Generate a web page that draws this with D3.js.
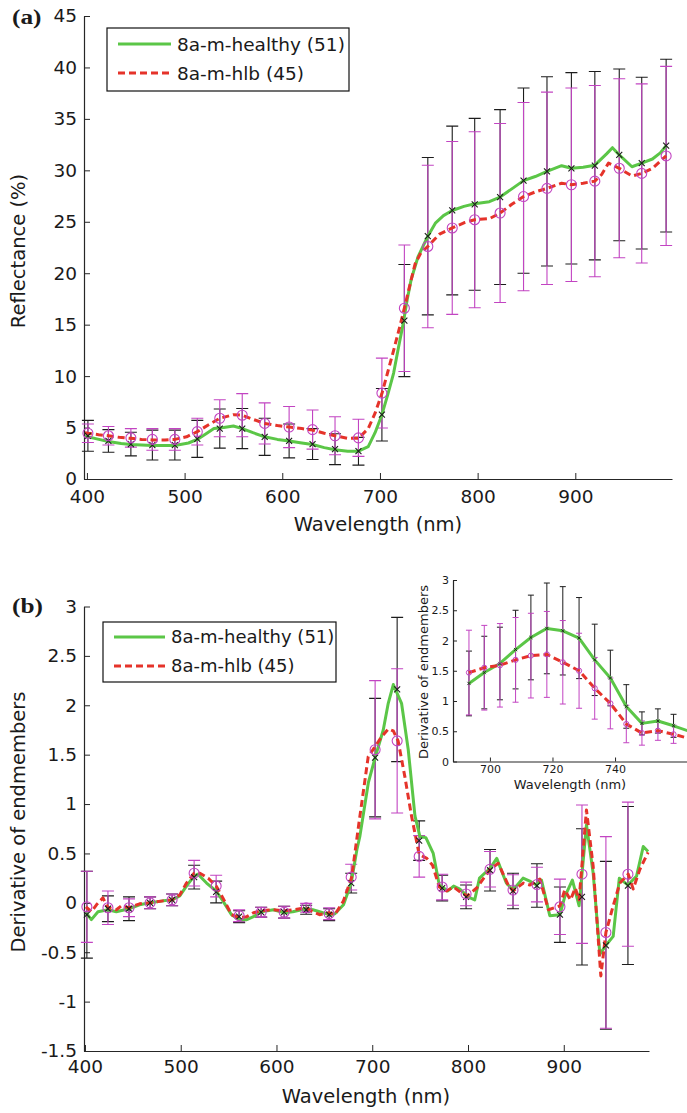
<!DOCTYPE html>
<html>
<head>
<meta charset="utf-8">
<script src="https://cdn.jsdelivr.net/npm/d3@7"></script>
<style>
  body { margin: 0; background: #fff; }
  svg text { font-family: "DejaVu Sans", sans-serif; fill: #1a1a1a; }
</style>
</head>
<body>
<svg id="fig" width="687" height="1113"></svg>
<script>
// ---------- Panel (a): mean reflectance with +/- 1 SD ----------
const seriesNames = ["8a-m-healthy (51)", "8a-m-hlb (45)"];

const markerWlA = [401, 422, 445, 467, 490, 513, 536, 559, 582, 607, 631, 654, 678, 702, 725, 749, 774, 797, 823, 847, 871, 896, 920, 945, 968, 993];
const healthyMeanA = [4.2, 3.7, 3.4, 3.3, 3.3, 3.9, 4.9, 4.9, 4.1, 3.7, 3.4, 2.9, 2.7, 6.25, 15.4, 23.6, 26.1, 26.7, 27.4, 29.0, 29.9, 30.2, 30.45, 31.5, 30.7, 32.4];
const healthySdA = [1.5, 1.1, 1.15, 1.45, 1.45, 1.8, 1.9, 1.95, 1.8, 1.65, 1.5, 1.5, 1.35, 2.55, 5.45, 7.65, 8.2, 8.35, 8.5, 9.0, 9.2, 9.3, 9.15, 8.35, 8.35, 8.4];
const hlbMeanA = [4.45, 4.2, 4.0, 3.85, 3.85, 4.6, 5.9, 6.2, 5.4, 5.05, 4.8, 4.2, 4.0, 8.35, 16.6, 22.6, 24.4, 25.2, 25.85, 27.45, 28.25, 28.6, 28.95, 30.2, 29.7, 31.4];
const hlbSdA = [0.9, 0.9, 0.9, 1.05, 1.05, 1.3, 1.8, 2.1, 2.0, 2.0, 1.9, 1.85, 1.8, 3.4, 6.15, 7.9, 8.4, 8.55, 8.7, 9.15, 9.35, 9.4, 9.3, 8.7, 8.7, 8.7];

const lineWlHealthyA = [398, 401, 410, 422, 435, 445, 467, 490, 504, 513, 522, 530, 540, 550, 559, 570, 582, 595, 607, 620, 631, 643, 654, 667, 678, 688, 695, 702, 708, 714, 719, 724, 728, 732, 739, 749, 757, 765, 774, 786, 797, 812, 823, 835, 847, 859, 871, 886, 896, 908, 920, 932, 938, 945, 958, 968, 979, 987, 993];
const lineHealthyA = [4.15, 4.1, 3.9, 3.65, 3.45, 3.35, 3.25, 3.25, 3.5, 3.85, 4.4, 4.9, 5.0, 5.15, 4.9, 4.5, 4.1, 3.85, 3.7, 3.5, 3.35, 3.05, 2.85, 2.7, 2.7, 3.15, 4.5, 6.25, 8.2, 10.3, 12.8, 15.2, 17.5, 19.4, 21.6, 23.6, 24.9, 25.6, 26.1, 26.5, 26.75, 26.95, 27.4, 28.2, 29.0, 29.4, 29.9, 30.45, 30.2, 30.3, 30.5, 31.6, 32.2, 31.5, 30.35, 30.7, 31.1, 31.7, 32.4];
const lineWlHlbA = [398, 401, 412, 422, 433, 445, 456, 467, 480, 490, 502, 513, 525, 536, 550, 559, 570, 582, 595, 607, 620, 631, 643, 654, 667, 678, 688, 695, 702, 708, 714, 720, 725, 730, 736, 742, 749, 761, 774, 786, 797, 812, 823, 835, 847, 859, 871, 886, 896, 908, 920, 927, 934, 945, 958, 968, 979, 993];
const lineHlbA = [4.5, 4.45, 4.3, 4.2, 4.05, 3.95, 3.85, 3.8, 3.8, 3.85, 4.1, 4.6, 5.3, 5.9, 6.25, 6.2, 5.8, 5.4, 5.2, 5.05, 4.9, 4.75, 4.45, 4.2, 3.95, 3.95, 4.9, 6.4, 8.3, 10.4, 12.5, 14.7, 16.6, 18.6, 20.9, 22.0, 22.6, 23.8, 24.4, 24.9, 25.2, 25.3, 25.85, 26.7, 27.45, 27.9, 28.25, 28.75, 28.6, 28.75, 28.95, 29.6, 30.7, 30.2, 29.45, 29.7, 30.2, 31.4];

const xTicksA = [400, 500, 600, 700, 800, 900];
const yTicksA = [0, 5, 10, 15, 20, 25, 30, 35, 40, 45];

// ---------- Panel (b): first derivative of the endmembers ----------
const markerWlB = [402, 424, 446, 468, 491, 514, 537, 561, 584, 608, 631, 655, 678, 703, 726, 749, 773, 798, 823, 847, 872, 896, 919, 944, 967];
const healthyMeanB = [-0.12, -0.06, -0.06, 0.0, 0.03, 0.26, 0.11, -0.14, -0.095, -0.095, -0.07, -0.12, 0.2, 1.47, 2.16, 0.63, 0.15, 0.06, 0.33, 0.12, 0.175, -0.12, 0.06, -0.43, 0.175];
const healthySdB = [0.44, 0.13, 0.12, 0.06, 0.06, 0.12, 0.11, 0.06, 0.05, 0.06, 0.045, 0.06, 0.1, 0.6, 0.73, 0.2, 0.13, 0.12, 0.21, 0.18, 0.22, 0.28, 0.69, 0.85, 0.8];
const hlbMeanB = [-0.04, -0.05, -0.05, 0.0, 0.03, 0.3, 0.17, -0.13, -0.095, -0.095, -0.05, -0.11, 0.26, 1.55, 1.64, 0.47, 0.16, 0.09, 0.34, 0.13, 0.185, -0.04, 0.29, -0.3, 0.29];
const hlbSdB = [0.36, 0.17, 0.09, 0.06, 0.06, 0.13, 0.11, 0.06, 0.05, 0.06, 0.045, 0.06, 0.13, 0.7, 0.73, 0.21, 0.13, 0.12, 0.18, 0.155, 0.175, 0.28, 0.7, 0.97, 0.73];

const lineWlHealthyB = [401, 406.7, 413.6, 424, 432.8, 446, 457, 468, 481.5, 491, 499, 506, 514, 518, 527, 537, 544, 553, 561, 569, 576, 584, 597, 608, 617, 631, 638, 645, 655, 661, 670, 678, 684, 687, 696, 703, 711.5, 716.7, 722, 730.6, 737.6, 744.6, 749.8, 756, 763.7, 770, 779, 785, 791.5, 800, 807, 812, 823, 830, 840, 847, 857.5, 864.5, 871.5, 876.7, 885.4, 896, 901, 909, 916, 923.7, 930.7, 937.7, 944, 951.6, 958, 967, 976, 983, 988];
const lineHealthyB = [-0.1, -0.17, -0.09, -0.07, -0.09, -0.06, -0.02, 0.0, 0.02, 0.03, 0.07, 0.17, 0.27, 0.29, 0.2, 0.12, 0.02, -0.12, -0.17, -0.17, -0.14, -0.09, -0.07, -0.1, -0.09, -0.06, -0.07, -0.09, -0.12, -0.11, -0.02, 0.2, 0.54, 0.67, 1.22, 1.47, 1.75, 2.02, 2.21, 2.02, 1.55, 0.88, 0.67, 0.66, 0.5, 0.18, 0.12, 0.17, 0.14, 0.06, 0.03, 0.25, 0.35, 0.45, 0.2, 0.13, 0.25, 0.22, 0.18, 0.23, -0.13, -0.12, 0.06, 0.23, -0.03, 0.79, 0.3, -0.52, -0.43, -0.34, 0.25, 0.18, 0.27, 0.57, 0.52];
const lineWlHlbB = [401, 406.7, 412, 418.8, 424, 432.8, 438, 446, 457, 468, 481.5, 491, 499, 506, 514, 520, 528.6, 537, 544, 553, 561, 569, 576, 584, 597, 608, 617.5, 631, 638, 645, 655, 661, 670, 678.5, 686, 695.8, 702.8, 709.7, 716.7, 722, 727, 734, 741, 749, 757, 763, 770, 777.6, 785, 793, 799, 809, 823, 831.6, 842, 847, 857.7, 864.7, 875, 884, 896, 901, 907, 912, 916, 923.7, 930.7, 938.7, 944, 951.6, 958.6, 967.3, 972.5, 979.5, 988];
const lineHlbB = [-0.04, -0.09, -0.02, 0.05, -0.05, -0.07, -0.03, -0.05, -0.01, 0.0, 0.02, 0.03, 0.08, 0.2, 0.3, 0.3, 0.25, 0.17, 0.05, -0.12, -0.15, -0.14, -0.1, -0.08, -0.07, -0.08, -0.07, -0.05, -0.09, -0.12, -0.1, -0.12, 0.02, 0.26, 0.8, 1.48, 1.58, 1.68, 1.76, 1.74, 1.64, 1.28, 0.88, 0.49, 0.45, 0.38, 0.16, 0.12, 0.16, 0.1, 0.07, 0.15, 0.34, 0.4, 0.18, 0.12, 0.2, 0.18, 0.24, -0.07, -0.03, 0.13, 0.03, 0.15, 0.03, 0.94, 0.37, -0.74, -0.3, -0.03, 0.2, 0.29, 0.14, 0.34, 0.51];

const xTicksB = [400, 500, 600, 700, 800, 900];
const yTicksB = [-1.5, -1, -0.5, 0, 0.5, 1, 1.5, 2, 2.5, 3];

// ---------- Inset: red-edge detail of panel (b) ----------
const insetWl = [693.3, 698.2, 703.2, 708.2, 713.1, 718.2, 723.3, 728.5, 733.5, 738.5, 743.6, 748.6, 753.7, 758.7];
const insetHealthy = [1.29, 1.47, 1.62, 1.85, 2.05, 2.2, 2.16, 2.04, 1.68, 1.38, 0.91, 0.63, 0.67, 0.59];
const insetHealthySd = [0.535, 0.6, 0.6, 0.65, 0.7, 0.75, 0.73, 0.67, 0.59, 0.46, 0.36, 0.19, 0.2, 0.19];
const insetHlb = [1.47, 1.55, 1.59, 1.68, 1.75, 1.77, 1.64, 1.5, 1.21, 0.96, 0.62, 0.47, 0.51, 0.45];
const insetHlbSd = [0.7, 0.7, 0.69, 0.7, 0.7, 0.71, 0.69, 0.62, 0.51, 0.42, 0.31, 0.2, 0.16, 0.15];
const insetLineWl = [693.3, 698.2, 703.2, 708.2, 713.1, 718.2, 723.3, 728.5, 733.5, 738.5, 743.6, 748.6, 753.7, 758.7, 763.7];
const insetLineHealthy = [1.29, 1.47, 1.62, 1.85, 2.05, 2.2, 2.16, 2.04, 1.68, 1.38, 0.91, 0.63, 0.67, 0.59, 0.5];
const insetLineHlb = [1.47, 1.55, 1.59, 1.68, 1.75, 1.77, 1.64, 1.5, 1.21, 0.96, 0.62, 0.47, 0.51, 0.45, 0.38];
const xTicksI = [700, 720, 740];
const yTicksI = [0, 0.5, 1, 1.5, 2, 2.5, 3];

// ---------- styling ----------
const GREEN = "#5bc647";
const RED = "#e5332a";
const MAGENTA = "#c244c2";
const BLACK = "#1c1c1c";
const AXIS = "#262626";

const svg = d3.select("#fig");

function drawAxes(xs, ys, xTicks, yTicks, o) {
  const gx = svg.append("g")
    .attr("transform", `translate(0,${ys.range()[0]})`)
    .call(d3.axisBottom(xs).tickValues(xTicks).tickFormat(d => String(d))
      .tickSizeInner(-o.tick).tickSizeOuter(0).tickPadding(o.padX));
  const gy = svg.append("g")
    .attr("transform", `translate(${xs.range()[0]},0)`)
    .call(d3.axisLeft(ys).tickValues(yTicks).tickFormat(d => String(d))
      .tickSizeInner(-o.tick).tickSizeOuter(0).tickPadding(o.padY));
  [gx, gy].forEach(g => {
    g.select(".domain").attr("stroke", AXIS).attr("stroke-width", 1.2);
    g.selectAll(".tick line").attr("stroke", AXIS).attr("stroke-width", 1);
    g.selectAll(".tick text").attr("font-size", o.fs).attr("fill", "#1a1a1a");
  });
}

function errorBars(g, xs, ys, wl, mean, sd, color, capW, width) {
  const half = capW / 2;
  const rows = wl.map((w, i) => ({ x: xs(w), lo: ys(mean[i] - sd[i]), hi: ys(mean[i] + sd[i]) }));
  const eb = g.append("g").attr("stroke", color).attr("stroke-width", width).attr("fill", "none");
  eb.selectAll("path").data(rows).join("path")
    .attr("d", r => `M${r.x},${r.lo}V${r.hi}M${r.x - half},${r.lo}H${r.x + half}M${r.x - half},${r.hi}H${r.x + half}`);
}

function curve(g, xs, ys, wl, vals, color, width, dash) {
  const pts = wl.map((w, i) => [w, vals[i]]);
  g.append("path").datum(pts)
    .attr("d", d3.line().x(d => xs(d[0])).y(d => ys(d[1])))
    .attr("fill", "none").attr("stroke", color).attr("stroke-width", width)
    .attr("stroke-dasharray", dash || null)
    .attr("stroke-linejoin", "round");
}

function crosses(g, xs, ys, wl, vals, s, width) {
  const pts = wl.map((w, i) => [xs(w), ys(vals[i])]);
  g.append("g").selectAll("path").data(pts).join("path")
    .attr("d", p => `M${p[0] - s},${p[1] - s}L${p[0] + s},${p[1] + s}M${p[0] - s},${p[1] + s}L${p[0] + s},${p[1] - s}`)
    .attr("stroke", BLACK).attr("stroke-width", width).attr("fill", "none");
}

function rings(g, xs, ys, wl, vals, r, width) {
  const pts = wl.map((w, i) => [xs(w), ys(vals[i])]);
  g.append("g").selectAll("circle").data(pts).join("circle")
    .attr("cx", p => p[0]).attr("cy", p => p[1]).attr("r", r)
    .attr("fill", "none").attr("stroke", MAGENTA).attr("stroke-width", width);
}

function legend(x0, y0, w, h, rowY, lineX, textX, fs) {
  const g = svg.append("g");
  g.append("rect").attr("x", x0).attr("y", y0).attr("width", w).attr("height", h)
    .attr("fill", "#fff").attr("stroke", "#111").attr("stroke-width", 1.2);
  const styles = [{ c: GREEN, dash: null }, { c: RED, dash: "7,4" }];
  seriesNames.forEach((name, i) => {
    g.append("line").attr("x1", lineX[0]).attr("x2", lineX[1])
      .attr("y1", rowY[i]).attr("y2", rowY[i])
      .attr("stroke", styles[i].c).attr("stroke-width", 3).attr("stroke-dasharray", styles[i].dash);
    g.append("text").attr("x", textX).attr("y", rowY[i] + fs * 0.36)
      .attr("font-size", fs).text(name);
  });
}

function panelTag(label, x, y) {
  svg.append("text").attr("transform", `translate(${x},${y}) scale(1.15,1)`)
    .style("font-family", "'Liberation Serif', 'Times New Roman', serif")
    .attr("font-weight", "bold").attr("font-size", 22).text(label);
}

function axisTitles(xText, xPos, yText, yPos, fs) {
  svg.append("text").attr("x", xPos[0]).attr("y", xPos[1]).attr("text-anchor", "middle")
    .attr("font-size", fs).text(xText);
  svg.append("text").attr("transform", `translate(${yPos[0]},${yPos[1]}) rotate(-90)`)
    .attr("text-anchor", "middle").attr("font-size", fs).text(yText);
}

// ================= Panel (a) =================
const xA = d3.scaleLinear().domain([397, 999]).range([84, 672]);
const yA = d3.scaleLinear().domain([0, 45]).range([479, 16]);
drawAxes(xA, yA, xTicksA, yTicksA, { tick: 6, padX: 11, padY: 7, fs: 18.5 });
const gA = svg.append("g");
errorBars(gA, xA, yA, markerWlA, healthyMeanA, healthySdA, BLACK, 12, 1.1);
errorBars(gA, xA, yA, markerWlA, hlbMeanA, hlbSdA, MAGENTA, 12, 1.1);
curve(gA, xA, yA, lineWlHealthyA, lineHealthyA, GREEN, 3);
curve(gA, xA, yA, lineWlHlbA, lineHlbA, RED, 3, "7,4");
crosses(gA, xA, yA, markerWlA, healthyMeanA, 3, 1.1);
rings(gA, xA, yA, markerWlA, hlbMeanA, 5, 1.1);
legend(107, 28, 242, 63, [44, 73], [118, 171], 177, 18.5);
panelTag("(a)", 12, 24);
axisTitles("Wavelength (nm)", [378, 531], "Reflectance (%)", [25, 251], 19.5);

// ================= Panel (b) =================
const xB = d3.scaleLinear().domain([399, 989]).range([84, 649]);
const yB = d3.scaleLinear().domain([-1.5, 3]).range([1051, 606.5]);
drawAxes(xB, yB, xTicksB, yTicksB, { tick: 6, padX: 9, padY: 7, fs: 18.5 });
const gB = svg.append("g");
errorBars(gB, xB, yB, markerWlB, healthyMeanB, healthySdB, BLACK, 12, 1.1);
errorBars(gB, xB, yB, markerWlB, hlbMeanB, hlbSdB, MAGENTA, 12, 1.1);
curve(gB, xB, yB, lineWlHealthyB, lineHealthyB, GREEN, 3);
curve(gB, xB, yB, lineWlHlbB, lineHlbB, RED, 3, "7,4");
crosses(gB, xB, yB, markerWlB, healthyMeanB, 3, 1.1);
rings(gB, xB, yB, markerWlB, hlbMeanB, 5, 1.1);
legend(103, 622, 233, 60, [637, 666], [114, 165], 171, 18);
panelTag("(b)", 12, 613);
axisTitles("Wavelength (nm)", [366, 1103], "Derivative of endmembers", [25, 822], 19.5);

// ================= Inset =================
const xI = d3.scaleLinear().domain([688.2, 763]).range([453, 687]);
const yI = d3.scaleLinear().domain([0, 3]).range([761.5, 580]);
svg.append("defs").append("clipPath").attr("id", "insetClip")
  .append("rect").attr("x", 440).attr("y", 570).attr("width", 247).attr("height", 200);
drawAxes(xI, yI, xTicksI, yTicksI, { tick: 4, padX: 4, padY: 4, fs: 11 });
const gI = svg.append("g").attr("clip-path", "url(#insetClip)");
errorBars(gI, xI, yI, insetWl, insetHealthy, insetHealthySd, BLACK, 6, 1);
errorBars(gI, xI, yI, insetWl, insetHlb, insetHlbSd, MAGENTA, 6, 1);
curve(gI, xI, yI, insetLineWl, insetLineHealthy, GREEN, 3);
curve(gI, xI, yI, insetLineWl, insetLineHlb, RED, 3, "7,4");
crosses(gI, xI, yI, insetWl, insetHealthy, 1.6, 0.9);
rings(gI, xI, yI, insetWl, insetHlb, 2.6, 1);
axisTitles("Wavelength (nm)", [570, 789], "Derivative of endmembers", [428, 672], 13);
</script>
</body>
</html>
